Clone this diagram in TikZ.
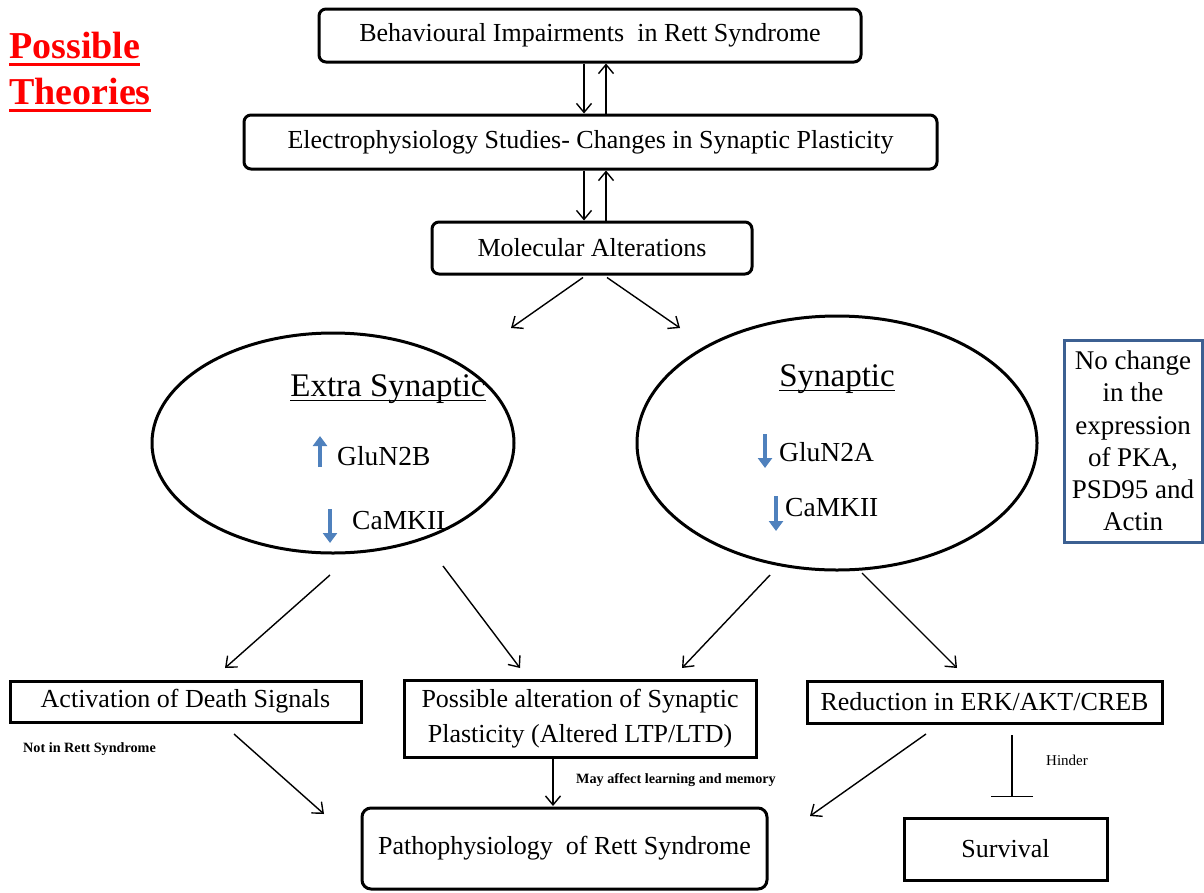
\documentclass[tikz,border=0pt]{standalone}
\usepackage{fontspec}
\setmainfont{Liberation Serif}
\usetikzlibrary{shapes.geometric,arrows.meta,calc}
\definecolor{boxblue}{RGB}{60,96,146}
\definecolor{arrblue}{RGB}{79,129,189}
\newcommand{\thickul}[3]{\setbox0\hbox{#3}\rlap{\rule[#1]{\wd0}{#2}}\box0}
\begin{document}
\begin{tikzpicture}[x=1pt,y=-1pt,
  box/.style={draw,line width=3pt,rounded corners=7pt,inner sep=0pt,align=center,font=\fontsize{26}{35}\selectfont},
  sbox/.style={draw,line width=3pt,inner sep=0pt,align=center,font=\fontsize{26}{35}\selectfont},
  oval/.style={draw,ellipse,line width=3pt,inner sep=0pt},
  arr/.style={line width=1.4pt,-{Straight Barb[length=9pt,width=15pt,line width=1.4pt]}},
  barr/.style={line width=4pt,arrblue,-{Triangle[length=10pt,width=14pt]}},
  lbl/.style={inner sep=0pt,font=\fontsize{27.5}{32}\selectfont},
  small/.style={inner sep=0pt,font=\fontsize{14.2}{16}\selectfont\bfseries},
]
\useasboundingbox (0,0) rectangle (1204,892);

% title
\node[inner sep=0pt,text=red,align=left,font=\fontsize{38}{46}\selectfont\bfseries] (title) at (80,72)
  {\thickul{-7pt}{2.8pt}{Possible}\\\thickul{-7pt}{2.8pt}{Theories}};

% top boxes
\node[box,minimum width=542pt,minimum height=53pt] (b1) at (590,35.5) {Behavioural Impairments\ \ in Rett Syndrome};
\node[box,minimum width=693pt,minimum height=54pt] (b2) at (590.5,142) {Electrophysiology Studies- Changes in Synaptic Plasticity};
\node[box,minimum width=320pt,minimum height=52pt] (b3) at (592,248) {Molecular Alterations};

\draw[arr] ([xshift=-6pt]b1.south) -- ([xshift=-6pt]b1.south |- b2.north);
\draw[arr] ([xshift=16pt]b1.south |- b2.north) -- ([xshift=16pt]b1.south);
\draw[arr] ([xshift=-6.5pt]b2.south) -- ([xshift=-6.5pt]b2.south |- b3.north);
\draw[arr] ([xshift=15.5pt]b2.south |- b3.north) -- ([xshift=15.5pt]b2.south);

\coordinate (m1) at (511,328);
\coordinate (m2) at (680,328);
\draw[arr] ([xshift=-9pt,yshift=-2pt]b3.south) -- (m1);
\draw[arr] ([xshift=15pt,yshift=-2pt]b3.south) -- (m2);

% ellipses
\node[oval,minimum width=362pt,minimum height=220pt] (el) at (333,443) {};
\node[oval,minimum width=400pt,minimum height=254pt] (er) at (837,443) {};

\node[lbl,font=\fontsize{33}{36}\selectfont] (extra) at (388,389) {\thickul{-5pt}{1.3pt}{Extra Synaptic}};
\node[lbl,anchor=west] (g2b) at (337,456) {GluN2B};
\node[lbl,anchor=west] (cl) at (352,521) {CaMKII};
\coordinate (ua1) at (320,467); \coordinate (ua2) at (320,436);
\draw[barr] (ua1) -- (ua2);
\coordinate (da1) at (330,509); \coordinate (da2) at (330,543);
\draw[barr] (da1) -- (da2);

\node[lbl,font=\fontsize{33}{36}\selectfont] (syn) at (837,379) {\thickul{-5pt}{1.3pt}{Synaptic}};
\node[lbl,anchor=west] (g2a) at (779,452) {GluN2A};
\node[lbl,anchor=west] (cr) at (785,508) {CaMKII};
\coordinate (db1) at (765,434); \coordinate (db2) at (765,468);
\draw[barr] (db1) -- (db2);
\coordinate (dc1) at (776,496); \coordinate (dc2) at (776,531);
\draw[barr] (dc1) -- (dc2);

% blue side box
\node[draw=boxblue,line width=3pt,inner sep=0pt,minimum width=138pt,minimum height=202pt,align=center,font=\fontsize{27}{32.2}\selectfont] (nochg) at (1133,441)
  {No change\\in the\\expression\\of PKA,\\PSD95 and\\Actin};

% arrows from ellipses
\coordinate (a1s) at (330,575); \coordinate (a1e) at (225,668);
\coordinate (a2s) at (443,566); \coordinate (a2e) at (520,668);
\coordinate (a3s) at (770,575); \coordinate (a3e) at (682,668);
\coordinate (a4s) at (862,573); \coordinate (a4e) at (957,668);
\draw[arr] (a1s) -- (a1e);
\draw[arr] (a2s) -- (a2e);
\draw[arr] (a3s) -- (a3e);
\draw[arr] (a4s) -- (a4e);

% bottom row
\node[sbox,minimum width=351pt,minimum height=41pt] (death) at (185.5,701.5) {Activation of Death Signals};
\node[sbox,minimum width=352pt,minimum height=77pt] (plast) at (580,718.5) {Possible alteration of Synaptic\\Plasticity (Altered LTP/LTD)};
\node[sbox,minimum width=355pt,minimum height=42pt] (erk) at (984.5,702) {Reduction in ERK/AKT/CREB};

\node[small,anchor=west] (notin) at (23,749) {Not in Rett Syndrome};

\node[box,rounded corners=9pt,minimum width=405pt,minimum height=81pt] (patho) at (564.5,848.5) {Pathophysiology\ \ of Rett Syndrome};
\node[sbox,minimum width=203pt,minimum height=62pt] (surv) at (1005.5,849) {Survival};

\coordinate (p1s) at (234,734); \coordinate (p1e) at (324,814);
\draw[arr] (p1s) -- (p1e);
\coordinate (p2s) at (553,757); \coordinate (p2e) at (553,806);
\draw[arr] (p2s) -- (p2e);
\coordinate (p3s) at (926,734); \coordinate (p3e) at (810,816);
\draw[arr] (p3s) -- (p3e);

\node[small,anchor=west] (may) at (576,780) {May affect learning and memory};

\coordinate (h1) at (1012,735); \coordinate (h2) at (1012,797);
\draw[line width=1.4pt,-{Bar[width=42pt,line width=1.4pt]}] (h1) -- (h2);
\node[small,anchor=west,font=\fontsize{15}{16}\selectfont] (hinder) at (1046,760) {Hinder};
\end{tikzpicture}
\end{document}
